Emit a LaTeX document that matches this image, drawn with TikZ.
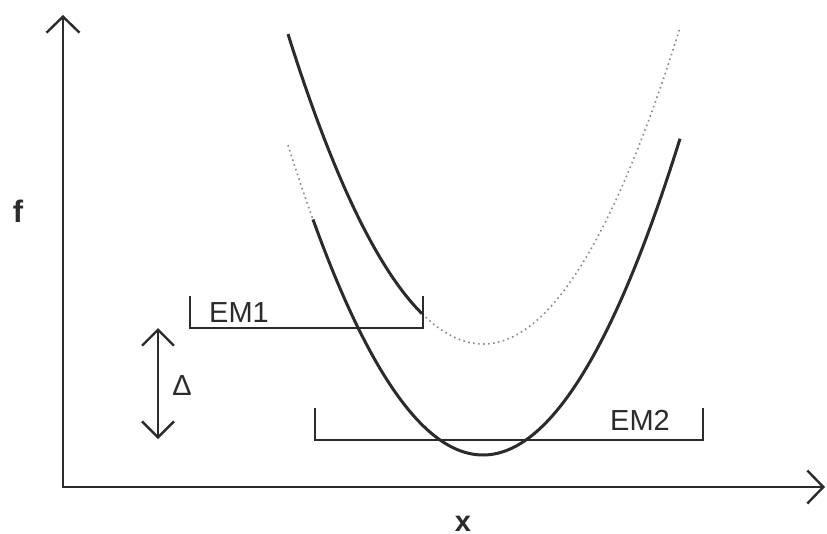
\documentclass[tikz,border=0pt]{standalone}
\usepackage{fontspec}
\setmainfont{Liberation Sans}
\usetikzlibrary{arrows.meta}
\definecolor{ink}{HTML}{2B2B2B}
\definecolor{dotc}{HTML}{8A8A8A}
\begin{document}
\begin{tikzpicture}[x=1pt,y=-1pt,
  axis/.style={draw=ink,line width=2pt,-{Straight Barb[length=16pt,width=33pt,line width=2.4pt]}},
  curve/.style={draw=ink,line width=3pt},
  dotcurve/.style={draw=dotc,line width=1.6pt,dash pattern=on 1.6pt off 3.4pt},
  brack/.style={draw=ink,line width=2.2pt},
  lbl/.style={font=\fontsize{29}{29}\selectfont,text=ink,inner sep=0pt},
  dbl/.style={draw=ink,line width=2.4pt,{Straight Barb[length=16pt,width=32pt,line width=2.4pt]}-{Straight Barb[length=16pt,width=32pt,line width=2.4pt]}}]
\useasboundingbox (0,0) rectangle (827,533);
\fill[white] (0,0) rectangle (827,533);
% axes
\coordinate (O) at (63,487);
\coordinate (ytop) at (63,15);
\coordinate (xend) at (825,487);
\draw[axis] (O) -- (ytop);
\draw[axis] ([xshift=-1pt]O) -- (xend);
% curves
\draw[curve] plot[domain=288:422,samples=60,smooth] (\x,{344-0.815*((\x-483)/10)*((\x-483)/10)});
\draw[dotcurve] plot[domain=422:680,samples=80,smooth] (\x,{344-0.815*((\x-483)/10)*((\x-483)/10)});
\draw[dotcurve] plot[domain=288:313,samples=15,smooth] (\x,{455-0.815*((\x-483)/10)*((\x-483)/10)});
\draw[curve] plot[domain=313:680,samples=100,smooth] (\x,{455-0.815*((\x-483)/10)*((\x-483)/10)});
% brackets
\draw[brack] (190,296) -- (190,328) -- (423,328) -- (423,296);
\draw[brack] (315,408) -- (315,440) -- (703,440) -- (703,408);
% delta arrow
\coordinate (dtop) at (158,328);
\coordinate (dbot) at (158,439);
\draw[dbl] (dtop) -- (dbot);
% labels
\node[lbl] (em1) at (239,313) {EM1};
\node[lbl] (em2) at (640,420) {EM2};
\node[lbl] (delta) at (182,386) {Δ};
\node[lbl,font=\fontsize{31}{31}\selectfont\bfseries] (f) at (18,211) {f};
\node[lbl,font=\fontsize{29}{29}\selectfont\bfseries,anchor=base] (xl) at (463,531) {x};
\end{tikzpicture}
\end{document}
